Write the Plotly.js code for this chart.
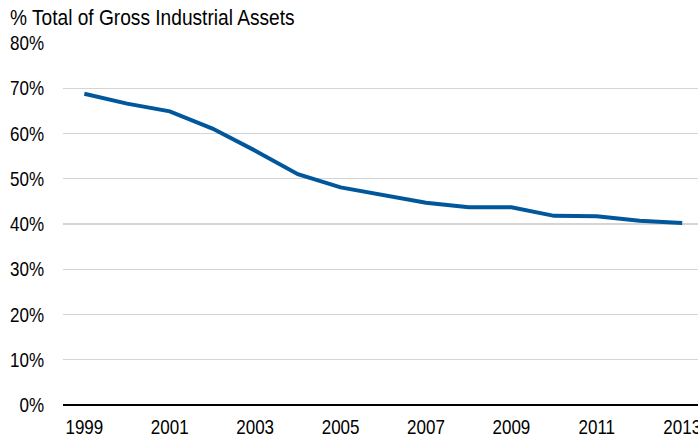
<!DOCTYPE html>
<html><head><meta charset="utf-8">
<script src="https://cdn.plot.ly/plotly-3.0.1.min.js"></script>
<style>html,body{margin:0;padding:0;background:#fff;overflow:hidden}#c{width:698px;height:438px}</style>
</head><body><div id="c"></div>
<script>
const years = [1999,2000,2001,2002,2003,2004,2005,2006,2007,2008,2009,2010,2011,2012,2013];
const share = [0.688,0.666,0.649,0.611,0.562,0.510,0.481,0.465,0.447,0.437,0.437,0.418,0.417,0.407,0.402];
const yTicks = [0,0.1,0.2,0.3,0.4,0.5,0.6,0.7,0.8];
const xTicks = [1999,2001,2003,2005,2007,2009,2011,2013];
const titleText = '% Total of Gross Industrial Assets';
const F = '"Liberation Sans Narrow","Arial Narrow","Liberation Sans",Arial,sans-serif';
Plotly.newPlot('c',[{
  x: years, y: share, type:'scatter', mode:'lines',
  line:{color:'#00579B', width:4}, hoverinfo:'skip'
}],{
  width:698, height:438,
  margin:{l:63, r:0, t:43, b:33},
  paper_bgcolor:'#fff', plot_bgcolor:'#fff',
  showlegend:false,
  font:{family:F, size:20, color:'#000'},
  title:{text:titleText, x:0, xref:'paper', xanchor:'left', y:0.978, yanchor:'top', pad:{l:-53},
         font:{family:F, size:22, color:'#000'}},
  xaxis:{range:[1998.5,2013.37], tickvals:xTicks, ticktext:xTicks.map(String), showgrid:false,
         zeroline:false, showline:false, ticks:'', ticklabeloverflow:'allow', ticklabelstandoff:8,
         tickfont:{family:F,size:20,color:'#000'}},
  yaxis:{range:[0,0.8], tickvals:yTicks, ticktext:yTicks.map(v=>Math.round(v*100)+'%'),
         showgrid:true, gridcolor:'#D4D4D4', gridwidth:1.3, zeroline:true, zerolinecolor:'#000', zerolinewidth:2.5,
         showline:false, ticks:'', ticklabelstandoff:18, tickfont:{family:F,size:20,color:'#000'}}
},{staticPlot:true}).then(gd=>{
  // emulate a narrow typeface by condensing text horizontally around its anchor
  gd.querySelectorAll('text').forEach(t=>{
    const x = parseFloat(t.getAttribute('x')||0), y = parseFloat(t.getAttribute('y')||0);
    const s = t.classList.contains('gtitle') ? 0.87 : 0.85;
    const tr = t.getAttribute('transform')||'';
    t.setAttribute('transform', tr+` translate(${x},${y}) scale(${s},1) translate(${-x},${-y})`);
  });
});
</script></body></html>
